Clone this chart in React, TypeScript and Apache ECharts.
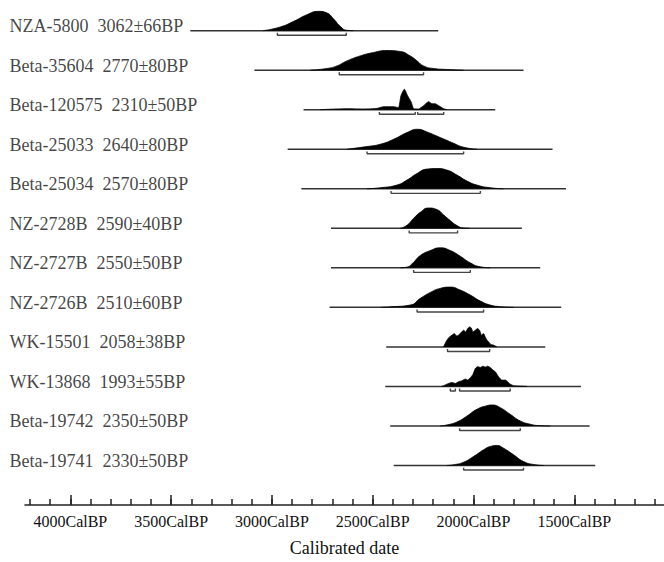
import React, { useEffect, useRef } from "react";
import * as echarts from "echarts";

// ---- Data (calibrated years BP, probability heights in px) ----
const ROW_LABELS = [
  "NZA-5800  3062±66BP",
  "Beta-35604  2770±80BP",
  "Beta-120575  2310±50BP",
  "Beta-25033  2640±80BP",
  "Beta-25034  2570±80BP",
  "NZ-2728B  2590±40BP",
  "NZ-2727B  2550±50BP",
  "NZ-2726B  2510±60BP",
  "WK-15501  2058±38BP",
  "WK-13868  1993±55BP",
  "Beta-19742  2350±50BP",
  "Beta-19741  2330±50BP",
];

const NZA_5800: [number, number][] = [[3043, 0], [2958, 3.7], [2892, 9.3], [2826, 16], [2768, 19.3], [2727, 17.7], [2694, 11.7], [2661, 4.3], [2628, 0.3], [2596, 0]];
const BETA_35604: [number, number][] = [[2810, 0], [2727, 1.7], [2677, 4.3], [2628, 9.3], [2562, 14.3], [2496, 17.7], [2429, 19.7], [2363, 18.7], [2314, 14.3], [2280, 9.3], [2248, 4.3], [2198, 1.7], [2132, 0.7], [2049, 0]];
const BETA_120575: [number, number][] = [[2760, 0], [2710, 0.5], [2628, 1], [2545, 0.7], [2479, 1.3], [2446, 3], [2396, 3], [2372, 2], [2360, 14], [2343, 20.5], [2327, 14], [2310, 8], [2297, 1], [2272, 0.7], [2248, 4], [2223, 8], [2206, 6], [2190, 6], [2173, 4], [2148, 1], [2132, 0]];
const BETA_25033: [number, number][] = [[2628, 0], [2528, 2.7], [2462, 5], [2396, 10], [2330, 16.7], [2277, 20], [2231, 17.3], [2165, 11.7], [2099, 6], [2049, 2], [1983, 0]];
const BETA_25034: [number, number][] = [[2528, 0], [2462, 1], [2380, 3.7], [2330, 8.7], [2280, 15.3], [2231, 19.7], [2181, 20.3], [2132, 18.7], [2082, 13.7], [2032, 7.7], [1983, 3.7], [1917, 1], [1851, 0]];
const NZ_2728B: [number, number][] = [[2363, 0], [2330, 3], [2297, 10], [2264, 16], [2223, 20.3], [2181, 18.7], [2148, 13.3], [2115, 7.7], [2082, 2.7], [2049, 0.3], [2020, 0]];
const NZ_2727B: [number, number][] = [[2363, 0], [2330, 0.7], [2297, 5.7], [2264, 12.3], [2214, 17.3], [2165, 20], [2115, 17.3], [2066, 11.7], [2016, 5], [1966, 1], [1917, 0]];
const NZ_2726B: [number, number][] = [[2460, 0], [2413, 0.5], [2314, 2.3], [2264, 9], [2214, 15], [2165, 19], [2115, 20.3], [2066, 17.3], [2016, 12.3], [1966, 6.3], [1917, 2.3], [1867, 0.7], [1801, 0]];
const WK_15501: [number, number][] = [[2150, 0], [2145, 1.7], [2132, 6.7], [2119, 10], [2107, 11.7], [2095, 13.3], [2085, 11], [2074, 11.7], [2062, 14.3], [2049, 16.7], [2039, 15], [2029, 18.3], [2019, 20], [2011, 19], [2003, 15], [1991, 16.7], [1980, 18.3], [1970, 16.7], [1961, 11.7], [1950, 13.3], [1942, 10], [1933, 6.7], [1925, 5], [1913, 2.3], [1900, 1.7], [1884, 0]];
const WK_13868: [number, number][] = [[2160, 0], [2148, 0.7], [2124, 3], [2107, 4], [2090, 3], [2074, 4.7], [2057, 5.7], [2041, 7.3], [2029, 6.3], [2016, 8.7], [2003, 12], [1991, 18], [1980, 19.7], [1966, 19], [1953, 20.3], [1942, 19.3], [1930, 20.3], [1917, 19], [1903, 16.3], [1892, 14.7], [1876, 9.7], [1859, 6.3], [1842, 6.3], [1831, 4.7], [1821, 2.7], [1801, 0.7], [1768, 0.3], [1735, 0]];
const BETA_19742: [number, number][] = [[2165, 0], [2132, 1], [2082, 4], [2032, 10], [1983, 16.7], [1933, 20.3], [1908, 21], [1867, 18.3], [1818, 11.7], [1768, 5], [1718, 1.7], [1669, 0.3], [1619, 0]];
const BETA_19741: [number, number][] = [[2132, 0], [2099, 0.7], [2049, 3.3], [2000, 9], [1950, 15.7], [1917, 19], [1884, 20], [1851, 17.3], [1801, 10.7], [1752, 4], [1702, 1], [1652, 0]];

const DISTRIBUTIONS = [NZA_5800, BETA_35604, BETA_120575, BETA_25033, BETA_25034, NZ_2728B, NZ_2727B, NZ_2726B, WK_15501, WK_13868, BETA_19742, BETA_19741];
const SMOOTH_ROWS = [true, true, false, true, true, true, true, true, false, false, true, true];

// Plotted extent of each row's baseline (calBP)
const BASELINES: [number, number][] = [[3405, 2175], [3087, 1752], [2843, 1892], [2922, 1608], [2854, 1541], [2707, 1760], [2707, 1669], [2714, 1565], [2433, 1644], [2438, 1467], [2413, 1424], [2396, 1396]];

// 2-sigma ranges (brackets under each distribution)
const RANGES: [number, number][][] = [
  [[2973, 2631]],
  [[2666, 2248]],
  [[2467, 2289], [2277, 2148]],
  [[2528, 2049]],
  [[2409, 1966]],
  [[2319, 2079]],
  [[2297, 2016]],
  [[2280, 1950]],
  [[2129, 1920]],
  [[2115, 2090], [2069, 1818]],
  [[2069, 1768]],
  [[2049, 1752]],
];

const MAJOR_TICKS = [4000, 3500, 3000, 2500, 2000, 1500];
const MINOR_TICKS = [4200, 4100, 4000, 3900, 3800, 3700, 3600, 3500, 3400, 3300, 3200, 3100, 3000, 2900, 2800, 2700, 2600, 2500, 2400, 2300, 2200, 2100, 2000, 1900, 1800, 1700, 1600, 1500, 1400, 1300, 1200, 1100];

const X_MIN = 1055;
const X_MAX = 4225;

// ---- layout / style constants ----
const ROW_PX = 39.61; // pixel height of one row unit
const Y_MAX = 12.775;
const FONT = "'Liberation Serif', 'Times New Roman', serif";

function buildOption() {
  const n = ROW_LABELS.length;
  const base = (i: number) => n - i;
  const series: any[] = [];

  DISTRIBUTIONS.forEach((pts, i) => {
    const b = base(i);
    series.push({
      type: "line",
      silent: true,
      symbol: "none",
      z: 2,
      data: [[BASELINES[i][0], b], [BASELINES[i][1], b]],
      lineStyle: { color: "#333", width: 1.5 },
    });
    series.push({
      type: "line",
      silent: true,
      symbol: "none",
      z: 3,
      smooth: SMOOTH_ROWS[i] ? 0.55 : 0.15,
      data: pts.map(([x, h]) => [x, b + h / ROW_PX]),
      lineStyle: { color: "#000", width: 0.8 },
      areaStyle: { color: "#000", opacity: 1, origin: b },
    });
    RANGES[i].forEach(([a, c]) => {
      const yLow = b - 4.6 / ROW_PX;
      const yEnd = b - 2.2 / ROW_PX;
      series.push({
        type: "line",
        silent: true,
        symbol: "none",
        z: 2,
        data: [[a, yEnd], [a, yLow], [c, yLow], [c, yEnd]],
        lineStyle: { color: "#444", width: 1.4 },
      });
    });
  });

  series.push({
    type: "scatter",
    silent: true,
    clip: false,
    symbolSize: 1,
    itemStyle: { color: "rgba(0,0,0,0)" },
    data: ROW_LABELS.map((name, i) => ({ name, value: [X_MAX, base(i)] })),
    label: {
      show: true,
      formatter: "{b}",
      position: [-15, -4],
      align: "left",
      verticalAlign: "middle",
      fontFamily: FONT,
      fontSize: 18,
      color: "#111",
    },
  });

  return {
    animation: false,
    backgroundColor: "#fff",
    grid: { left: 25, right: 0, top: 0, bottom: 56, containLabel: false },
    xAxis: [
      {
        type: "value",
        inverse: true,
        min: X_MIN,
        max: X_MAX,
        position: "bottom",
        axisLine: { show: true, lineStyle: { color: "#222", width: 1.5 } },
        axisTick: { show: true, inside: true, length: 10, customValues: MAJOR_TICKS, lineStyle: { color: "#222", width: 1.5 } },
        axisLabel: {
          show: true,
          customValues: MAJOR_TICKS,
          formatter: (v: number) => `${v}CalBP`,
          fontFamily: FONT,
          fontSize: 16,
          color: "#111",
          margin: 8,
        },
        splitLine: { show: false },
        name: "Calibrated date",
        nameLocation: "middle",
        nameGap: 34,
        nameTextStyle: { fontFamily: FONT, fontSize: 18, color: "#111" },
      },
      {
        type: "value",
        inverse: true,
        min: X_MIN,
        max: X_MAX,
        position: "bottom",
        axisLine: { show: false },
        axisTick: { show: true, inside: true, length: 6, customValues: MINOR_TICKS, lineStyle: { color: "#222", width: 1.5 } },
        axisLabel: { show: false },
        splitLine: { show: false },
      },
    ],
    yAxis: { type: "value", min: 0, max: Y_MAX, show: false },
    series,
  };
}

export default function App() {
  const ref = useRef<HTMLDivElement>(null);
  useEffect(() => {
    if (!ref.current) return;
    const chart = echarts.init(ref.current, undefined, { renderer: "svg" });
    chart.setOption(buildOption() as any);
    return () => chart.dispose();
  }, []);
  return (
    <div
      ref={ref}
      style={{ position: "absolute", left: 0, top: 0, width: 664, height: 562, background: "#fff" }}
    />
  );
}
